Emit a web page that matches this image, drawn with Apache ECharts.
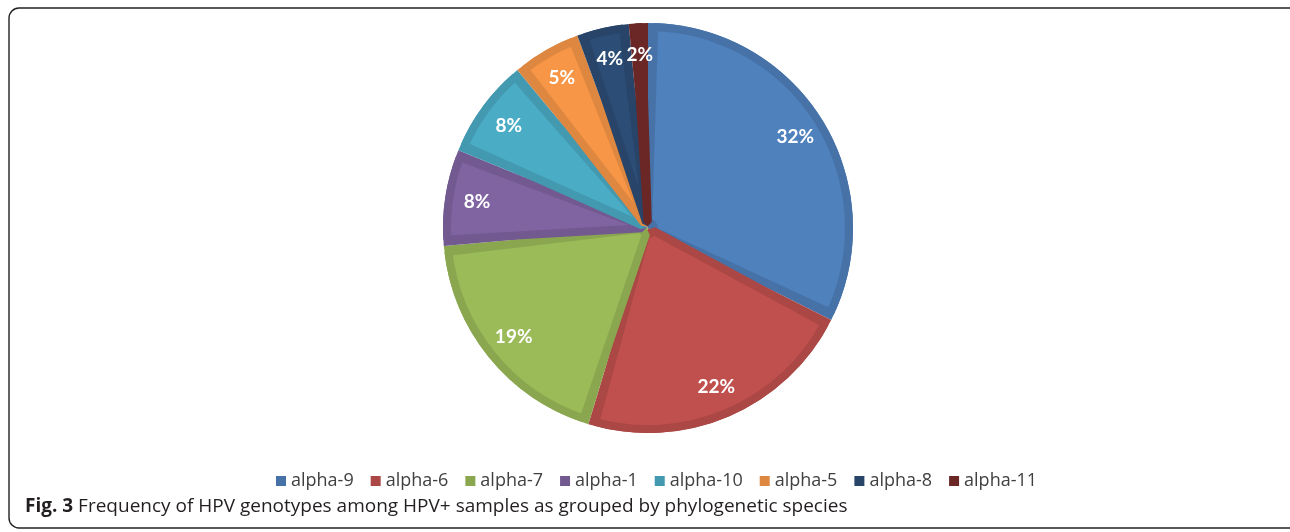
<!DOCTYPE html>
<html>
<head>
<meta charset="utf-8">
<script src="https://cdn.jsdelivr.net/npm/echarts@6/dist/echarts.min.js"></script>
<style>
  html, body { margin: 0; padding: 0; background: #fff; }
  #chart { width: 1290px; height: 532px; }
</style>
</head>
<body>
<div id="chart"></div>
<script>
// share of HPV+ samples per phylogenetic species (%)
const categories = ["alpha-9", "alpha-6", "alpha-7", "alpha-1", "alpha-10", "alpha-5", "alpha-8", "alpha-11"];
const shares = [32.4, 22.3, 18.9, 7.6, 7.8, 5.4, 4.1, 1.5];

const fillColors = ["#4f81bd", "#c0504d", "#9bbb59", "#8064a2", "#4bacc6", "#f79646", "#2c4d75", "#772c2a"];
const edgeColors = ["#4672a8", "#ab4744", "#8aa74f", "#725990", "#4399b0", "#dd8740", "#284469", "#6a2726"];

const CX = 648, CY = 228, R = 205;

const chart = echarts.init(document.getElementById("chart"));

const edgeData = categories.map((name, i) => ({
  name,
  value: shares[i],
  itemStyle: { color: edgeColors[i] },
}));
// lighter inner part, its own darker border gives the inset look
const fillData = categories.map((name, i) => ({
  name,
  value: shares[i],
  itemStyle: { color: fillColors[i], borderColor: edgeColors[i] },
}));
const labelData = categories.map((name, i) => ({ name, value: shares[i] }));

const base = {
  type: "pie",
  center: [CX, CY],
  startAngle: 90,
  clockwise: true,
  avoidLabelOverlap: false,
  silent: true,
  label: { show: false },
  labelLine: { show: false },
  emphasis: { disabled: true },
};

chart.setOption({
  animation: false,
  title: {
    left: 25,
    top: 497,
    padding: 0,
    text: "{b|Fig. 3} Frequency of HPV genotypes among HPV+ samples as grouped by phylogenetic species",
    textStyle: {
      fontFamily: "Open Sans",
      fontSize: 19,
      fontWeight: "normal",
      color: "#231f20",
      rich: {
        b: { fontFamily: "Open Sans", fontSize: 19, fontWeight: "bold", color: "#231f20" },
      },
    },
  },
  legend: {
    data: categories,
    left: 271,
    top: 467,
    itemWidth: 10,
    itemHeight: 10,
    itemGap: 17,
    icon: "rect",
    selectedMode: false,
    textStyle: { fontFamily: "Open Sans", fontSize: 18, color: "#404040" },
  },
  graphic: [
    {
      type: "rect",
      silent: true,
      shape: { x: 9, y: 8, width: 1300, height: 520, r: 10 },
      style: { fill: "none", stroke: "#222", lineWidth: 1.4 },
    },
  ],
  series: [
    { ...base, name: "edge", radius: [0, R], data: edgeData },
    {
      ...base,
      name: "fill",
      radius: [6, R - 4],
      padAngle: 3.5,
      itemStyle: { borderWidth: 8, borderJoin: "bevel" },
      data: fillData,
    },
    {
      ...base,
      name: "labels",
      radius: [135, R],
      itemStyle: { color: "rgba(0,0,0,0)" },
      data: labelData,
      label: {
        show: true,
        position: "inside",
        formatter: (p) => Math.round(p.percent) + "%",
        fontFamily: "Lato",
        fontWeight: "bold",
        fontSize: 19,
        color: "#fff",
      },
    },
  ],
});
</script>
</body>
</html>
